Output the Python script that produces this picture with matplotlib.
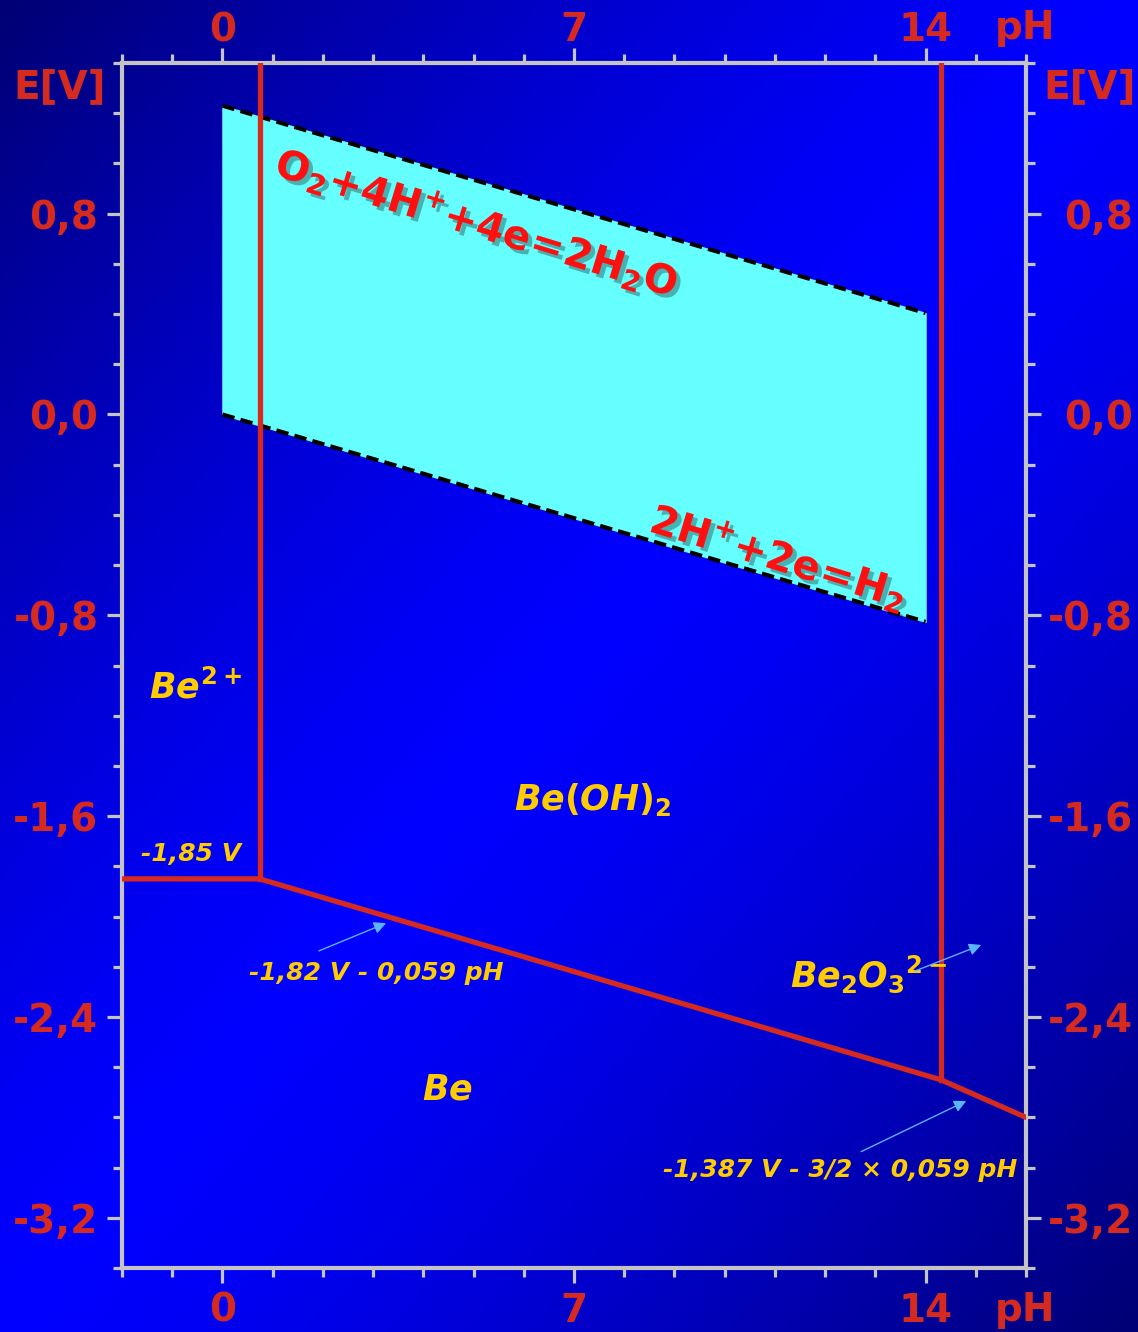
import numpy as np
import matplotlib.pyplot as plt
import matplotlib.patheffects as pe
from matplotlib.ticker import FixedLocator, MultipleLocator

# phase boundaries (pH, E in V)
ph_bottom = [-2, 0.74, 14.3, 16]
e_bottom = [-1.85, -1.85, -2.65, -2.80]
ph_split_left = [0.74, 0.74]
e_split_left = [-1.85, 1.4]
ph_split_right = [14.3, 14.3]
e_split_right = [-2.65, 1.4]

# water stability window
ph_water = [0, 14]
e_o2 = [1.23, 0.404]
e_h2 = [0.0, -0.826]

x_major = [0, 7, 14]
x_labels = ['0', '7', '14']
y_major = [-3.2, -2.4, -1.6, -0.8, 0.0, 0.8]
y_labels = ['-3,2', '-2,4', '-1,6', '-0,8', '0,0', '0,8']

RED = '#d62a1e'
GOLD = '#ffcc00'
GREY = '#c4c4c4'
ARROW = '#5ab4ff'

plt.rcParams['font.family'] = 'DejaVu Sans'
plt.rcParams['mathtext.fontset'] = 'custom'
plt.rcParams['mathtext.rm'] = 'DejaVu Sans:bold'
plt.rcParams['mathtext.bf'] = 'DejaVu Sans:bold'
plt.rcParams['mathtext.it'] = 'DejaVu Sans:bold:italic'

fig = plt.figure(figsize=(11.38, 13.32), dpi=100)

# diagonal background gradient: dark corners TL/BR, bright in between
bg = fig.add_axes([0, 0, 1, 1])
yy, xx = np.mgrid[0:1:400j, 0:1:400j]
t = np.abs((xx + yy) - 1.0)
b = 1.0 - 0.55 * t ** 1.4
img = np.zeros((400, 400, 3))
img[..., 2] = b
bg.imshow(img, extent=[0, 1, 0, 1], aspect='auto', origin='upper')
bg.axis('off')

ax = fig.add_axes([122 / 1138, 64 / 1332, 904 / 1138, 1205 / 1332])
ax.set_facecolor('none')
ax.set_xlim(-2, 16)
ax.set_ylim(-3.4, 1.4)

for s in ax.spines.values():
    s.set_color(GREY)
    s.set_linewidth(3)

ax.xaxis.set_major_locator(FixedLocator(x_major))
ax.xaxis.set_minor_locator(MultipleLocator(1))
ax.yaxis.set_major_locator(FixedLocator(y_major))
ax.yaxis.set_minor_locator(MultipleLocator(0.2))
ax.set_xticklabels(x_labels)
ax.set_yticklabels(y_labels)
ax.tick_params(which='both', direction='out', color=GREY, width=2.3,
               top=True, right=True)
ax.tick_params(which='major', length=11, pad=6, labelsize=28, labelcolor=RED)
ax.tick_params(which='minor', length=6.5)
for lab in ax.get_xticklabels() + ax.get_yticklabels():
    lab.set_fontweight('bold')

# labels on the top and right sides
top = ax.secondary_xaxis('top')
top.set_xticks(x_major, x_labels)
top.tick_params(length=0, pad=10, labelsize=28, labelcolor=RED)
top.spines['top'].set_visible(False)
right = ax.secondary_yaxis('right')
right.set_yticks(y_major, y_labels)
right.tick_params(length=0, pad=77, labelsize=28, labelcolor=RED)
right.spines['right'].set_visible(False)
for lab in top.get_xticklabels() + right.get_yticklabels():
    lab.set_fontweight('bold')
for lab in right.get_yticklabels():
    lab.set_horizontalalignment('right')

# axis titles
lab_kw = dict(color=RED, fontsize=28, fontweight='bold', ha='center', va='center')
fig.text(1025 / 1138, 1 - 28 / 1332, 'pH', **lab_kw)
fig.text(1025 / 1138, 1 - 1310 / 1332, 'pH', **lab_kw)
fig.text(60 / 1138, 1 - 87 / 1332, 'E[V]', **lab_kw)
fig.text(1090 / 1138, 1 - 87 / 1332, 'E[V]', **lab_kw)

# water window
ax.fill_between(ph_water, e_h2, e_o2, color='#66ffff', zorder=1)
ax.plot(ph_water, e_o2, color='k', lw=3, ls=(0, (3, 1.5)), zorder=2)
ax.plot(ph_water, e_h2, color='k', lw=3, ls=(0, (3, 1.5)), zorder=2)

# phase boundaries
ax.plot(ph_bottom, e_bottom, color=RED, lw=3.8, zorder=3, solid_joinstyle='miter')
ax.plot(ph_split_left, e_split_left, color=RED, lw=3.8, zorder=3)
ax.plot(ph_split_right, e_split_right, color=RED, lw=3.8, zorder=3)

shadow = [pe.withSimplePatchShadow(offset=(3, -3), shadow_rgbFace='k', alpha=0.3)]
eq_kw = dict(color='#ff1010', fontsize=29, rotation=-17,
             rotation_mode='anchor', ha='center', va='center', zorder=4,
             path_effects=shadow)
ax.text(5.06, 0.76, r'$\mathbf{O_2{+}4H^{+}{+}4e\!=\!2H_2O}$', **eq_kw)
ax.text(11.07, -0.57, r'$\mathbf{2H^{+}{+}2e\!=\!H_2}$', **eq_kw)

sp_kw = dict(color=GOLD, fontsize=25, zorder=4)
ax.text(-1.47, -1.13, r'$\mathit{Be}^{\mathit{2+}}$', ha='left', va='baseline', **sp_kw)
ax.text(7.37, -1.535, r'$\mathit{Be(OH)_2}$', ha='center', va='center', **sp_kw)
ax.text(4.48, -2.69, r'$\mathit{Be}$', ha='center', va='center', **sp_kw)
ax.text(11.31, -2.23, r'$\mathit{Be_2O_3}^{\mathit{2-}}$', ha='left', va='center', **sp_kw)

eqn_kw = dict(color=GOLD, fontsize=18, fontweight='bold', style='italic', zorder=4)
ax.text(-1.63, -1.75, '-1,85 V', ha='left', va='center', **eqn_kw)
ax.text(0.52, -2.225, '-1,82 V - 0,059 pH', ha='left', va='center', **eqn_kw)
ax.text(15.83, -3.01, '-1,387 V - 3/2 × 0,059 pH', ha='right', va='center', **eqn_kw)

arr = dict(arrowstyle='-|>', color=ARROW, lw=1, mutation_scale=18)
ax.annotate('', xy=(3.31, -2.022), xytext=(1.87, -2.141), arrowprops=arr, zorder=4)
ax.annotate('', xy=(14.86, -2.73), xytext=(12.67, -2.941), arrowprops=arr, zorder=4)
ax.annotate('', xy=(15.16, -2.109), xytext=(13.74, -2.221), arrowprops=arr, zorder=4)

fig.savefig('out.png', dpi=100)
